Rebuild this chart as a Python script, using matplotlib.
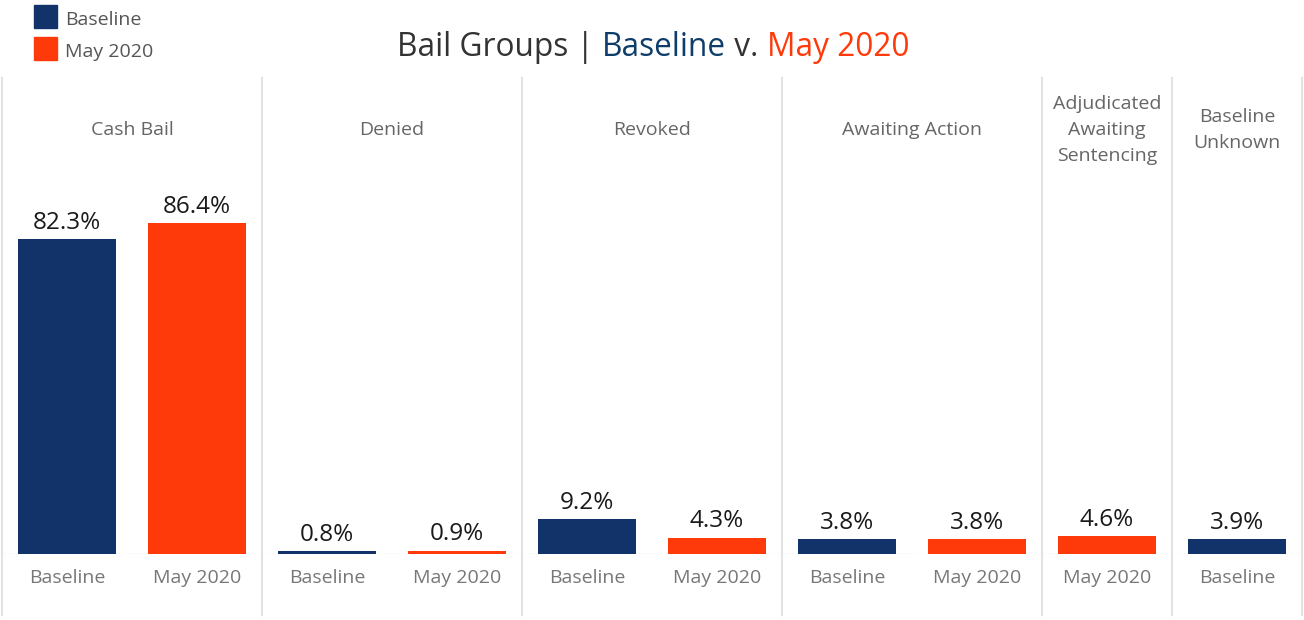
import matplotlib
matplotlib.use("Agg")
import matplotlib.pyplot as plt
import matplotlib.transforms as mtransforms
from matplotlib.patches import Rectangle

plt.rcParams['font.family'] = ['Open Sans', 'DejaVu Sans']

# -----------------------------
# Data
# -----------------------------
groups = ["Cash Bail", "Denied", "Revoked", "Awaiting Action",
          "Adjudicated\nAwaiting\nSentencing", "Baseline\nUnknown"]
bar_group = [0, 0, 1, 1, 2, 2, 3, 3, 4, 5]
bar_series = ["Baseline", "May 2020", "Baseline", "May 2020", "Baseline", "May 2020",
              "Baseline", "May 2020", "May 2020", "Baseline"]
bar_values = [82.3, 86.4, 0.8, 0.9, 9.2, 4.3, 3.8, 3.8, 4.6, 3.9]

colors = {"Baseline": "#12336a", "May 2020": "#ff3a0a"}
title_blue = "#0e3d6a"

W, H = 1304, 620
fig = plt.figure(figsize=(W / 100, H / 100), dpi=100)
ax = fig.add_axes([2 / W, (H - 554) / H, 1300 / W, 476 / H])

x = list(range(len(bar_values)))
bar_colors = [colors[s] for s in bar_series]
ax.bar(x, bar_values, width=0.755, color=bar_colors, zorder=3)

for xi, v in zip(x, bar_values):
    ax.annotate(f"{v:.1f}%", (xi, v), xytext=(0, 3), textcoords="offset points",
                ha="center", va="bottom", fontsize=17.5, color="#1a1a1a")

ax.set_xlim(-0.5, len(x) - 0.5)
ax.set_ylim(0, 476 / 3.83)
ax.axis("off")

# dashed zero line
ax.axhline(0, color="#cccccc", lw=0.9, ls=(0, (3, 2)), zorder=1)

# category labels under bars
trans = mtransforms.blended_transform_factory(ax.transData, ax.transAxes)
for xi, s in zip(x, bar_series):
    ax.text(xi, -24 / 476, s, transform=trans,
            ha="center", va="center", fontsize=14, color="#777777")

# panel separators and headers
ftrans = mtransforms.blended_transform_factory(ax.transData, fig.transFigure)
bounds = [-0.5]
pos = -0.5
for g in range(len(groups)):
    pos += bar_group.count(g)
    bounds.append(pos)
for b in bounds:
    ax.plot([b, b], [-61 / 476, 1], transform=trans, color="#e3e3e3", lw=1.5, clip_on=False)
for g, name in enumerate(groups):
    c = (bounds[g] + bounds[g + 1]) / 2
    ax.text(c, 1 - 130 / H, name, transform=ftrans, ha="center", va="center",
            fontsize=14, color="#666666", linespacing=1.55)

# legend
for i, s in enumerate(["Baseline", "May 2020"]):
    y0 = 5 + i * 32
    fig.patches.append(Rectangle((34 / W, 1 - (y0 + 23) / H), 23 / W, 23 / H,
                                 transform=fig.transFigure, color=colors[s]))
    fig.text(65 / W, 1 - (y0 + 15) / H, s, ha="left", va="center", fontsize=14, color="#555555")

# title with colored words
parts = [("Bail Groups | ", "#333333"), ("Baseline", title_blue), (" v. ", "#333333"),
         ("May 2020", "#ff3a0a")]
renderer = fig.canvas.get_renderer()
texts = []
for t, col in parts:
    texts.append(fig.text(0, 1 - 47 / H, t, fontsize=22.8, color=col, ha="left", va="center"))
widths = [tx.get_window_extent(renderer).width for tx in texts]
xs = 653 - sum(widths) / 2
for tx, w in zip(texts, widths):
    tx.set_x(xs / W)
    xs += w

fig.savefig("out.png", dpi=100)
